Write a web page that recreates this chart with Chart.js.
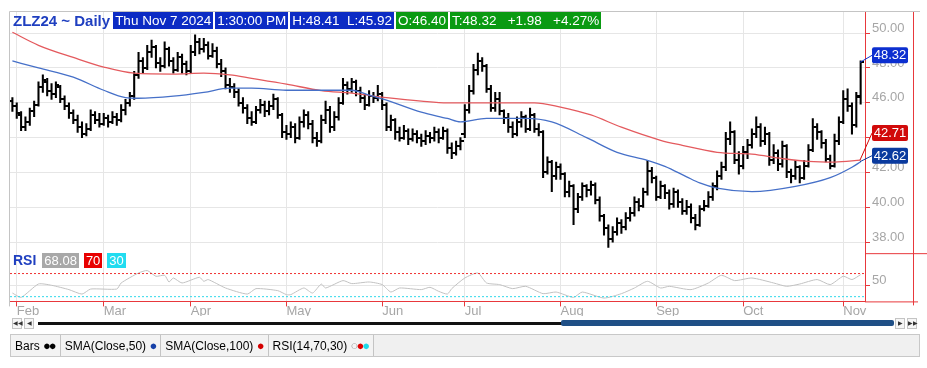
<!DOCTYPE html>
<html>
<head>
<meta charset="utf-8">
<script src="https://cdn.jsdelivr.net/npm/chart.js@4.4.1/dist/chart.umd.min.js"></script>
<style>
  body { margin: 0; background: #fff; font-family: 'Liberation Sans', Arial, sans-serif; }
  #wrap { position: relative; width: 927px; height: 368px; overflow: hidden; }
  #box { position: absolute; left: 0; top: 0; width: 927px; height: 323px; }
  .hdr { position: absolute; left: 13px; top: 12px; display: flex; gap: 2px; font-size: 13.5px; line-height: 17px; white-space: nowrap; }
  .ttl { color: #1f3fc0; font-weight: bold; font-size: 15px; margin-right: 1px; }
  .b { color: #fff; padding: 0 2px; }
  .bl { background: #0c2bc4; }
  .gr { background: #0a9a12; }
  .rsi { position: absolute; left: 13px; top: 253px; display: flex; gap: 5px; font-size: 13px; line-height: 15px; white-space: nowrap; }
  .rsi .ttl { font-size: 14px; margin-right: 1px; }
  .scroll { position: absolute; left: 10px; top: 317px; width: 910px; height: 12px; }
  .btn { position: absolute; top: 1px; width: 8px; height: 9px; border: 1px solid #c4c4c4; background: #f6f6f6; font-size: 6px; line-height: 9px; text-align: center; color: #333; }
  .foot { position: absolute; left: 10px; top: 334px; width: 908px; height: 21px; background: #f0f0f0; border: 1px solid #c8c8c8; display: flex; font-size: 12px; line-height: 21px; white-space: nowrap; }
  .cell { padding: 0 5px 0 4px; border-right: 1px solid #c4c4c4; background: #f3f3f3; color: #000; }
  .dot { font-size: 13px; letter-spacing: -2px; }
</style>
</head>
<body>
<div id="wrap">
  <div id="box"><canvas id="c"></canvas></div>
  <div class="hdr">
    <span class="ttl">ZLZ24 ~ Daily</span>
    <span class="b bl">Thu Nov 7 2024</span>
    <span class="b bl">1:30:00 PM</span>
    <span class="b bl">H:48.41&nbsp;&nbsp;L:45.92</span>
    <span class="b gr">O:46.40</span>
    <span class="b gr">T:48.32&nbsp;&nbsp;&nbsp;+1.98&nbsp;&nbsp;&nbsp;+4.27%</span>
  </div>
  <div class="rsi">
    <span class="ttl">RSI</span>
    <span class="b" style="background:#a8a8a8">68.08</span>
    <span class="b" style="background:#e80000">70</span>
    <span class="b" style="background:#22dcf0">30</span>
  </div>
  <div class="scroll">
    <div class="btn" style="left:2px">&#9664;&#9664;</div>
    <div class="btn" style="left:14px">&#9664;</div>
    <div style="position:absolute;left:28px;top:5px;width:524px;height:3px;background:#111"></div>
    <div style="position:absolute;left:551px;top:3px;width:333px;height:6px;background:#1f4f86;border-radius:2px"></div>
    <div class="btn" style="left:885px">&#9654;</div>
    <div class="btn" style="left:897px">&#9654;&#9654;</div>
  </div>
  <div class="foot">
    <span class="cell">Bars <span class="dot">&#9679;&#9679;</span></span>
    <span class="cell">SMA(Close,50) <span class="dot" style="color:#1640a8">&#9679;</span></span>
    <span class="cell">SMA(Close,100) <span class="dot" style="color:#d40000">&#9679;</span></span>
    <span class="cell">RSI(14,70,30) <span class="dot" style="color:#999">&#9675;</span><span class="dot" style="color:#e00000">&#9679;</span><span class="dot" style="color:#20d8e8">&#9679;</span></span>
  </div>
</div>
<script>
// month labels and the bar index of the first trading day of each month
const monthLabels = ['Feb', 'Mar', 'Apr', 'May', 'Jun', 'Jul', 'Aug', 'Sep', 'Oct', 'Nov'];
const monthStartIdx = [1, 21, 41, 63, 85, 104, 126, 148, 168, 191];

// daily bars, Jan 31 2024 .. Nov 7 2024
const opens = [
  46.1,45.8,45.3,44.6,44.9,45.5,45.9,46.9,47.2,46.7,
  46.5,46.9,46.2,45.8,45.4,45.0,44.6,44.2,44.5,45.3,
  45.0,44.8,45.1,44.9,45.2,45.0,45.6,46.0,46.4,47.6,
  48.4,48.0,48.9,49.2,48.3,48.1,49.1,48.4,47.9,48.6,
  48.2,47.8,48.9,49.5,49.1,49.3,48.7,49.0,48.2,47.8,
  47.0,46.9,46.6,46.0,45.7,45.1,44.9,45.6,45.9,45.5,
  45.8,46.2,45.3,44.3,44.2,44.6,44.0,44.9,45.3,44.8,
  44.0,43.8,45.0,45.6,44.6,45.2,46.0,47.0,46.8,47.2,
  46.7,46.3,45.9,46.4,46.3,46.5,45.9,44.6,45.0,44.3,
  44.0,44.4,43.9,44.2,44.0,43.8,44.1,44.0,44.3,44.0,
  44.4,43.4,43.1,43.5,44.2,45.6,46.7,47.9,48.4,48.1,
  46.8,45.7,46.2,45.5,45.1,44.6,44.2,44.9,45.2,44.5,
  45.3,44.5,44.3,42.0,42.6,41.8,42.3,41.9,40.9,41.2,
  39.9,40.6,41.2,41.0,41.3,40.4,39.5,38.8,38.2,38.6,
  39.1,38.9,39.4,39.7,40.3,40.1,40.9,42.1,41.7,40.6,
  41.2,40.8,40.2,40.9,40.3,39.8,40.0,39.4,39.0,39.9,
  40.1,40.6,41.2,41.8,42.3,43.9,44.3,42.7,42.4,43.2,
  43.6,44.2,44.6,43.8,44.2,42.7,43.1,42.5,43.5,42.0,
  41.8,42.3,41.7,42.4,43.3,44.6,44.3,43.7,42.8,42.4,
  43.8,44.9,46.2,45.8,44.7,46.40
];
const highs = [
  46.3,46.0,45.5,45.2,45.7,46.1,47.2,47.6,47.4,47.1,
  47.2,47.0,46.4,46.0,45.6,45.3,44.9,44.8,45.6,45.5,
  45.4,45.4,45.3,45.5,45.4,45.9,46.2,46.6,47.8,48.9,
  48.6,49.3,49.6,49.3,48.6,49.5,49.2,48.6,48.9,48.8,
  48.4,49.3,49.9,49.7,49.7,49.5,49.4,49.2,48.5,48.0,
  47.4,47.1,46.8,46.3,45.9,45.5,45.8,46.2,46.1,46.1,
  46.5,46.3,45.4,44.7,44.9,44.8,45.2,45.6,45.5,45.0,
  44.3,45.3,46.1,45.8,45.5,46.3,47.4,47.2,47.4,47.3,
  46.9,46.5,46.7,46.6,47.0,46.6,46.0,45.3,45.1,44.6,
  44.7,44.5,44.5,44.4,44.2,44.4,44.3,44.6,44.5,44.6,
  44.5,43.7,43.8,44.0,45.9,47.0,48.2,48.85,48.6,48.2,
  47.0,46.6,46.6,45.6,45.4,44.9,45.2,45.5,45.3,45.7,
  45.4,44.8,44.4,42.9,42.7,42.6,42.5,42.0,41.5,41.3,
  40.8,41.4,41.3,41.5,41.4,40.6,39.6,39.0,38.9,39.4,
  39.3,39.7,40.0,40.6,40.5,41.1,42.7,42.3,41.8,41.5,
  41.3,41.0,41.1,41.0,40.5,40.4,40.2,39.6,40.1,40.4,
  40.9,41.4,42.1,42.6,44.3,44.9,44.4,43.2,43.5,43.9,
  44.5,45.2,44.8,44.6,44.3,43.6,43.3,43.8,43.6,42.2,
  42.7,42.4,42.7,43.6,45.1,44.8,44.4,43.9,43.0,44.2,
  45.2,46.7,46.8,46.0,46.6,48.41
];
const lows = [
  45.5,45.1,44.4,44.4,44.7,45.2,45.8,46.6,46.4,46.2,
  46.3,46.0,45.6,45.1,44.8,44.3,44.0,44.1,44.4,44.8,
  44.6,44.7,44.6,44.8,44.7,44.9,45.3,45.8,46.2,47.4,
  47.7,47.9,48.6,48.0,47.8,48.0,48.1,47.7,47.8,47.7,
  47.6,47.7,48.7,48.8,48.9,48.5,48.6,48.0,47.5,46.8,
  46.6,46.3,45.8,45.4,44.8,44.7,44.8,45.4,45.2,45.3,
  45.6,45.1,44.0,43.9,44.0,43.7,43.9,44.6,44.5,43.7,
  43.5,43.7,44.8,44.3,44.4,45.0,45.9,46.5,46.6,46.4,
  46.0,45.6,45.8,46.0,46.1,45.6,44.4,44.4,43.9,43.8,
  43.9,43.6,43.8,43.7,43.5,43.6,43.7,43.8,43.7,43.9,
  43.1,42.8,43.0,43.3,44.0,45.4,46.5,47.6,47.8,46.6,
  45.5,45.5,45.3,44.8,44.3,44.0,44.1,44.6,44.3,44.4,
  44.3,44.1,41.7,41.9,40.9,41.6,41.6,40.6,40.6,39.0,
  39.7,40.4,40.6,40.7,40.2,39.2,38.4,37.7,38.0,38.4,
  38.5,38.7,39.2,39.5,39.8,40.0,40.7,41.4,40.4,40.5,
  40.5,39.9,40.0,40.0,39.6,39.6,39.1,38.7,38.9,39.8,
  40.0,40.4,41.0,41.6,42.1,43.6,42.5,41.9,42.2,42.8,
  43.4,44.0,43.5,43.6,42.4,42.5,42.1,42.3,41.7,41.4,
  41.6,41.4,41.6,42.3,43.2,43.9,43.4,42.6,42.2,42.3,
  43.6,44.8,45.5,44.2,44.6,45.92
];
const closes = [
  45.8,45.4,44.6,44.9,45.5,45.9,46.9,47.3,46.7,46.5,
  47.0,46.2,45.8,45.4,45.0,44.6,44.2,44.5,45.3,45.0,
  44.8,45.1,44.9,45.2,45.0,45.6,46.0,46.4,47.6,48.4,
  48.0,48.9,49.2,48.3,48.1,49.1,48.4,47.9,48.6,48.2,
  47.8,48.9,49.5,49.1,49.3,48.7,49.0,48.2,47.8,47.0,
  46.9,46.6,46.0,45.7,45.1,44.9,45.6,45.9,45.5,45.8,
  46.2,45.3,44.3,44.2,44.6,44.0,44.9,45.3,44.8,44.0,
  43.8,45.0,45.6,44.6,45.2,46.0,47.0,46.8,47.2,46.7,
  46.3,45.9,46.4,46.3,46.5,45.9,44.6,45.0,44.3,44.0,
  44.4,43.9,44.2,44.0,43.8,44.1,44.0,44.3,44.0,44.4,
  43.4,43.1,43.5,43.8,45.6,46.7,47.9,48.4,48.1,46.8,
  45.7,46.2,45.5,45.1,44.6,44.2,44.9,45.2,44.5,45.3,
  44.5,44.3,42.0,42.6,41.8,42.3,41.9,40.9,41.2,39.9,
  40.6,41.2,41.0,41.3,40.4,39.5,38.8,38.2,38.6,39.1,
  38.9,39.4,39.7,40.3,40.1,40.9,42.1,41.7,40.6,41.2,
  40.8,40.2,40.9,40.3,39.8,40.0,39.4,39.0,39.9,40.1,
  40.6,41.2,41.8,42.3,43.9,44.3,42.7,42.4,43.2,43.6,
  44.2,44.6,43.8,44.2,42.7,43.1,42.5,43.5,42.0,41.8,
  42.3,41.7,42.4,43.3,44.6,44.3,43.7,42.8,42.4,43.8,
  44.9,46.2,45.8,44.7,46.34,48.32
];

// moving averages (bar index, value)
const sma50Idx = [0,6,14,21,26,29,37,44,50,55,63,71,78,82,86,94,100,103,109,118,124,132,139,146,150,155,158,162,170,180,188,193,195];
const sma50Val = [48.4,48.0,47.47,46.72,46.3,46.26,46.38,46.6,46.84,46.84,46.72,46.72,46.72,46.44,46.15,45.46,45.1,44.9,45.1,45.1,44.9,44.0,43.16,42.7,42.35,41.75,41.4,41.1,40.9,41.2,41.7,42.3,42.62];
const sma100Idx = [0,6,14,21,28,37,44,50,55,63,71,78,86,94,100,105,113,120,126,133,140,149,154,162,170,177,183,189,195];
const sma100Val = [50.05,49.3,48.6,48.05,47.7,47.65,47.7,47.6,47.4,47.07,46.7,46.55,46.3,46.1,46.0,46.0,46.0,46.0,45.75,45.3,44.6,43.85,43.56,43.16,43.05,42.8,42.64,42.6,42.71];

// RSI(14)
const rsiIdx = [0,2,6,9,13,16,18,24,25,29,31,33,35,36,37,39,43,44,45,49,54,56,61,63,64,67,69,71,72,76,78,82,85,87,89,94,96,98,100,101,104,107,109,112,115,118,122,125,129,131,136,140,143,146,149,151,156,160,163,166,170,175,178,181,185,188,191,193,195];
const rsiVal = [36.3,28.8,51.9,49.7,42.2,34.5,43.2,43.2,53.7,71,75.2,65.3,67,55.4,62.3,53.7,63.6,56.6,59.6,45,34.5,43.9,40.4,33.5,33.5,45,36.3,51.9,45,57.8,52.6,55.4,50.9,38,45,42.2,46.2,39.2,34.5,43.9,62.3,71,53.7,50.9,43.9,47.9,35.2,38,28.8,38,27.6,35.2,45,56.6,45,47.9,42.2,53.7,67,57.8,62.3,53.7,47.9,51.9,59.6,50.9,65.3,59.6,68.1];

const priceTicks = [38, 40, 42, 44, 46, 48, 50];
const rsiTicks = [50];
const rsiLevels = [70, 30];

const FONT = "'Liberation Sans', Arial, sans-serif";
const RED = '#e8383c';

function tickImage(side) {
  const c = document.createElement('canvas');
  c.width = 7; c.height = 2;
  const g = c.getContext('2d');
  g.fillStyle = '#000';
  g.fillRect(side === 'open' ? 0 : 4, 0, 3, 2);
  return c;
}

const idx = closes.map((_, i) => i);
const xMin = -0.55, xMax = 196;

const frame = {
  id: 'frame',
  afterDraw(chart) {
    const { ctx, chartArea: a, scales } = chart;
    const y = scales.y;
    ctx.save();
    ctx.lineWidth = 1;
    ctx.strokeStyle = '#c4c4c4';
    ctx.beginPath();
    ctx.moveTo(a.left - 0.5, a.top - 0.5); ctx.lineTo(920, a.top - 0.5);
    ctx.moveTo(a.left - 0.5, a.top - 0.5); ctx.lineTo(a.left - 0.5, a.bottom + 5);
    ctx.stroke();
    ctx.strokeStyle = RED;
    ctx.beginPath();
    ctx.moveTo(a.right + 48.5, a.top); ctx.lineTo(a.right + 48.5, a.bottom + 4);
    ctx.moveTo(a.right, y.bottom + 0.5); ctx.lineTo(927, y.bottom + 0.5);
    ctx.moveTo(a.right, a.bottom + 0.5); ctx.lineTo(918, a.bottom + 0.5);
    ctx.stroke();

    // last-value badges
    const last = closes.length - 1;
    const badges = [
      { v: closes[last], bg: '#0c2fd0', dy: -7 },
      { v: sma100Val[sma100Val.length - 1], bg: '#d10a0a', dy: -27 },
      { v: sma50Val[sma50Val.length - 1], bg: '#0a3a9e', dy: -6 }
    ];
    ctx.font = '13px ' + FONT;
    ctx.textAlign = 'center';
    ctx.textBaseline = 'middle';
    badges.forEach(b => {
      const p = y.getPixelForValue(b.v);
      const cy = p + b.dy;
      ctx.strokeStyle = b.bg;
      ctx.beginPath();
      ctx.moveTo(a.right - 5, p); ctx.lineTo(a.right + 7, cy);
      ctx.stroke();
      ctx.fillStyle = b.bg;
      ctx.beginPath();
      ctx.roundRect(a.right + 7, cy - 8, 36, 16, 2);
      ctx.fill();
      ctx.fillStyle = '#fff';
      ctx.fillText(b.v.toFixed(2), a.right + 25, cy + 0.5);
    });
    ctx.restore();
  }
};

const tickFont = { size: 13, family: FONT };

new Chart(document.getElementById('c'), {
  type: 'line',
  data: {
    datasets: [
      {
        type: 'bar', yAxisID: 'y',
        data: idx.map(i => ({ x: i, y: [lows[i], highs[i]] })),
        backgroundColor: '#000', borderWidth: 0, barThickness: 1.4, grouped: false, order: 3
      },
      {
        yAxisID: 'y', showLine: false,
        data: idx.map(i => ({ x: i, y: opens[i] })),
        pointStyle: tickImage('open'), pointRadius: 2, order: 2
      },
      {
        yAxisID: 'y', showLine: false,
        data: idx.map(i => ({ x: i, y: closes[i] })),
        pointStyle: tickImage('close'), pointRadius: 2, order: 2
      },
      {
        yAxisID: 'y',
        data: sma50Idx.map((x, k) => ({ x, y: sma50Val[k] })),
        borderColor: '#4670c8', borderWidth: 1.3, pointRadius: 0, cubicInterpolationMode: 'monotone', order: 1
      },
      {
        yAxisID: 'y',
        data: sma100Idx.map((x, k) => ({ x, y: sma100Val[k] })),
        borderColor: '#e45a5e', borderWidth: 1.3, pointRadius: 0, cubicInterpolationMode: 'monotone', order: 1
      },
      {
        yAxisID: 'y2',
        data: rsiIdx.map((x, k) => ({ x, y: rsiVal[k] })),
        borderColor: '#c2c2c2', borderWidth: 1, pointRadius: 0, tension: 0.2, order: 1
      },
      {
        yAxisID: 'y2',
        data: [{ x: xMin, y: rsiLevels[0] }, { x: xMax, y: rsiLevels[0] }],
        borderColor: '#f03030', borderWidth: 1, borderDash: [2, 2], pointRadius: 0
      },
      {
        yAxisID: 'y2',
        data: [{ x: xMin, y: rsiLevels[1] }, { x: xMax, y: rsiLevels[1] }],
        borderColor: '#30d8ea', borderWidth: 1, borderDash: [2, 2], pointRadius: 0
      }
    ]
  },
  options: {
    responsive: true,
    maintainAspectRatio: false,
    animation: false,
    layout: { padding: { left: 10, top: 12, right: 14, bottom: 7 } },
    plugins: { legend: { display: false }, tooltip: { enabled: false } },
    scales: {
      x: {
        type: 'linear', min: xMin, max: xMax, offset: false,
        afterBuildTicks: s => { s.ticks = monthStartIdx.map(v => ({ value: v })); },
        ticks: {
          color: '#a6a6a6', font: tickFont, align: 'start', padding: -3,
          autoSkip: false, maxRotation: 0,
          callback: (v, i) => monthLabels[i]
        },
        grid: { color: '#e6e6e6', tickColor: RED, tickLength: 5, offset: false },
        border: { color: RED }
      },
      y: {
        type: 'linear', position: 'right', stack: 'panes', stackWeight: 5,
        min: 37.37, max: 51.21,
        afterBuildTicks: s => { s.ticks = priceTicks.map(v => ({ value: v })); },
        afterFit: s => { s.width = 48; },
        ticks: { color: '#a6a6a6', font: tickFont, padding: 2, labelOffset: -5, callback: v => v.toFixed(2) },
        grid: { color: '#e6e6e6', tickColor: RED, tickLength: 5 },
        border: { color: RED }
      },
      y2: {
        type: 'linear', position: 'right', stack: 'panes', stackWeight: 1,
        min: 21.8, max: 105.3,
        afterBuildTicks: s => { s.ticks = rsiTicks.map(v => ({ value: v })); },
        afterFit: s => { s.width = 48; },
        ticks: { color: '#a6a6a6', font: tickFont, padding: 2, labelOffset: -5, callback: v => String(v) },
        grid: { color: '#e6e6e6', tickColor: RED, tickLength: 5 },
        border: { color: RED }
      }
    }
  },
  plugins: [frame]
});
</script>
</body>
</html>
